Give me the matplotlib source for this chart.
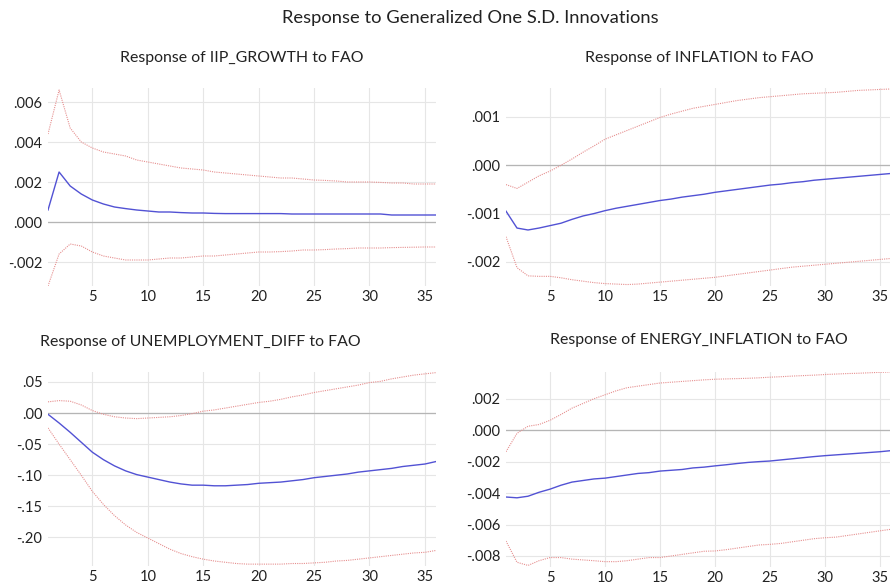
import numpy as np
import matplotlib.pyplot as plt

plt.rcParams['font.family'] = ['Lato', 'DejaVu Sans']

periods = np.arange(1, 37)

# IIP_GROWTH
iip_mid = [0.0006, 0.0025, 0.0018, 0.0014, 0.0011, 0.0009, 0.00075, 0.00067, 0.0006, 0.00055,
           0.0005, 0.0005, 0.00047, 0.00045, 0.00045, 0.00043, 0.00042, 0.00042, 0.00042, 0.00042,
           0.00042, 0.00042, 0.0004, 0.0004, 0.0004, 0.0004, 0.0004, 0.0004, 0.0004, 0.0004,
           0.0004, 0.00035, 0.00035, 0.00035, 0.00035, 0.00035]
iip_up = [0.0044, 0.0066, 0.0047, 0.0040, 0.0037, 0.0035, 0.0034, 0.0033, 0.0031, 0.0030,
          0.0029, 0.0028, 0.0027, 0.00265, 0.0026, 0.0025, 0.00245, 0.0024, 0.00235, 0.0023,
          0.00225, 0.0022, 0.0022, 0.00215, 0.0021, 0.00208, 0.00205, 0.0020, 0.0020, 0.0020,
          0.00198, 0.00195, 0.00195, 0.0019, 0.0019, 0.0019]
iip_lo = [-0.0032, -0.0016, -0.0011, -0.0012, -0.0015, -0.0017, -0.0018, -0.0019, -0.0019, -0.0019,
          -0.00185, -0.0018, -0.0018, -0.00175, -0.0017, -0.0017, -0.00165, -0.0016, -0.00155, -0.0015,
          -0.0015, -0.00148, -0.00145, -0.0014, -0.0014, -0.00138, -0.00135, -0.00133, -0.0013, -0.0013,
          -0.0013, -0.00128, -0.00127, -0.00126, -0.00125, -0.00125]

# INFLATION
inf_mid = [-0.00095, -0.0013, -0.00134, -0.0013, -0.00125, -0.0012, -0.00112, -0.00105, -0.001, -0.00094,
           -0.00089, -0.00085, -0.00081, -0.00077, -0.00073, -0.0007, -0.00066, -0.00063, -0.0006, -0.00056,
           -0.00053, -0.0005, -0.00047, -0.00044, -0.00041, -0.00039, -0.00036, -0.00034, -0.00031, -0.00029,
           -0.00027, -0.00025, -0.00023, -0.00021, -0.00019, -0.00017]
inf_up = [-0.0004, -0.00048, -0.00035, -0.00022, -0.00012, 0.0, 0.00013, 0.00027, 0.0004, 0.00054,
          0.00063, 0.00072, 0.00081, 0.0009, 0.00099, 0.00106, 0.00112, 0.00118, 0.00122, 0.00126,
          0.0013, 0.00134, 0.00137, 0.0014, 0.00142, 0.00144, 0.00146, 0.00148, 0.00149, 0.0015,
          0.00151, 0.00153, 0.00155, 0.00156, 0.00157, 0.00158]
inf_lo = [-0.00148, -0.00212, -0.00229, -0.0023, -0.0023, -0.00233, -0.00237, -0.0024, -0.00243, -0.00245,
          -0.00246, -0.00247, -0.00246, -0.00244, -0.00242, -0.0024, -0.00238, -0.00236, -0.00234, -0.00232,
          -0.00229, -0.00226, -0.00223, -0.0022, -0.00217, -0.00214, -0.00211, -0.00209, -0.00207, -0.00205,
          -0.00203, -0.00201, -0.00199, -0.00197, -0.00195, -0.00193]

# UNEMPLOYMENT_DIFF
une_mid = [-0.002, -0.016, -0.031, -0.047, -0.063, -0.075, -0.085, -0.093, -0.099, -0.103,
           -0.107, -0.111, -0.114, -0.116, -0.116, -0.117, -0.117, -0.116, -0.115, -0.113,
           -0.112, -0.111, -0.109, -0.107, -0.104, -0.102, -0.100, -0.098, -0.095, -0.093,
           -0.091, -0.089, -0.086, -0.084, -0.082, -0.078]
une_up = [0.018, 0.020, 0.019, 0.013, 0.004, -0.002, -0.006, -0.008, -0.009, -0.008,
          -0.007, -0.006, -0.004, -0.001, 0.003, 0.005, 0.008, 0.011, 0.014, 0.017,
          0.019, 0.022, 0.026, 0.029, 0.033, 0.036, 0.039, 0.042, 0.045, 0.049,
          0.051, 0.055, 0.058, 0.061, 0.063, 0.065]
une_lo = [-0.024, -0.050, -0.075, -0.100, -0.126, -0.147, -0.165, -0.180, -0.192, -0.201,
          -0.210, -0.219, -0.226, -0.231, -0.235, -0.238, -0.240, -0.242, -0.243, -0.243,
          -0.243, -0.243, -0.242, -0.242, -0.241, -0.240, -0.238, -0.237, -0.235, -0.233,
          -0.231, -0.229, -0.227, -0.225, -0.224, -0.221]

# ENERGY_INFLATION
ene_mid = [-0.00425, -0.0043, -0.0042, -0.00395, -0.00375, -0.0035, -0.0033, -0.0032, -0.0031, -0.00305,
           -0.00295, -0.00285, -0.00275, -0.0027, -0.0026, -0.00255, -0.0025, -0.0024, -0.00235, -0.00227,
           -0.0022, -0.00212, -0.00205, -0.002, -0.00196, -0.00189, -0.00182, -0.00175, -0.00168, -0.00162,
           -0.00157, -0.00152, -0.00147, -0.00142, -0.00137, -0.0013]
ene_up = [-0.00137, -0.0002, 0.00025, 0.00036, 0.00063, 0.001, 0.0014, 0.0017, 0.002, 0.00225,
          0.0025, 0.0027, 0.0028, 0.0029, 0.003, 0.00305, 0.0031, 0.00315, 0.0032, 0.00324,
          0.00326, 0.00328, 0.0033, 0.00333, 0.00337, 0.0034, 0.00344, 0.00347, 0.0035, 0.00354,
          0.00357, 0.0036, 0.00362, 0.00365, 0.00368, 0.0037]
ene_lo = [-0.00705, -0.0084, -0.0086, -0.0083, -0.0081, -0.0081, -0.0082, -0.00825, -0.0083, -0.00836,
          -0.00836, -0.0083, -0.0082, -0.0081, -0.0081, -0.008, -0.0079, -0.0078, -0.0077, -0.00768,
          -0.0076, -0.0075, -0.0074, -0.0073, -0.00726, -0.0072, -0.0071, -0.007, -0.0069, -0.00684,
          -0.0068, -0.0067, -0.0066, -0.0065, -0.0064, -0.0063]

W, H = 890, 584


def px_axes(x0, y0, x1, y1):
    return [x0 / W, 1 - y1 / H, (x1 - x0) / W, (y1 - y0) / H]


def fmt(v, nd):
    s = f"{v:.{nd}f}"
    if abs(v) < 1e-12:
        s = f"{0:.{nd}f}"
    return s.replace("0.", ".", 1)


panels = [
    (px_axes(48, 88, 436, 286), iip_mid, iip_up, iip_lo, (-0.0032, 0.0067),
     [-0.002, 0.0, 0.002, 0.004, 0.006], 3, "Response of IIP_GROWTH to FAO", 242, 'center', 58),
    (px_axes(506, 88, 891, 286), inf_mid, inf_up, inf_lo, (-0.0025, 0.0016),
     [-0.002, -0.001, 0.0, 0.001], 3, "Response of INFLATION to FAO", 699, 'center', 58),
    (px_axes(48, 372, 436, 566), une_mid, une_up, une_lo, (-0.246, 0.066),
     [-0.20, -0.15, -0.10, -0.05, 0.0, 0.05], 2, "Response of UNEMPLOYMENT_DIFF to FAO", 40, 'left', 342),
    (px_axes(506, 372, 891, 567), ene_mid, ene_up, ene_lo, (-0.0087, 0.0037),
     [-0.008, -0.006, -0.004, -0.002, 0.0, 0.002], 3, "Response of ENERGY_INFLATION to FAO", 699, 'center', 340),
]

fig = plt.figure(figsize=(W / 100, H / 100), dpi=100)
fig.text(470 / W, 1 - 18 / H, "Response to Generalized One S.D. Innovations",
         ha='center', va='center', fontsize=13.2, color='#222222')

for rect, mid, up, lo, ylim, yt, nd, title, tx, tha, ty in panels:
    ax = fig.add_axes(rect)
    ax.set_xlim(1, 36)
    ax.set_ylim(*ylim)
    ax.set_xticks([5, 10, 15, 20, 25, 30, 35])
    ax.set_yticks(yt)
    ax.set_yticklabels([fmt(v, nd) for v in yt])
    for s in ax.spines.values():
        s.set_visible(False)
    ax.tick_params(length=0, labelsize=10.5, colors='#222222')
    ax.tick_params(axis='x', pad=3)
    ax.tick_params(axis='y', pad=4)
    ax.grid(True, color='#e6e6e6', linewidth=0.8)
    ax.set_axisbelow(True)
    ax.axhline(0, color='#b5b5b5', linewidth=0.9, zorder=1)
    ax.plot(periods, up, color='#e68f8f', linestyle=(0, (1, 1)), linewidth=0.8, zorder=2)
    ax.plot(periods, lo, color='#e68f8f', linestyle=(0, (1, 1)), linewidth=0.8, zorder=2)
    ax.plot(periods, mid, color='#5252d4', linewidth=1.0, zorder=3)
    fig.text(tx / W, 1 - ty / H, title, ha=tha, va='center', fontsize=11.4, color='#222222')

fig.savefig("out.png", dpi=100)
